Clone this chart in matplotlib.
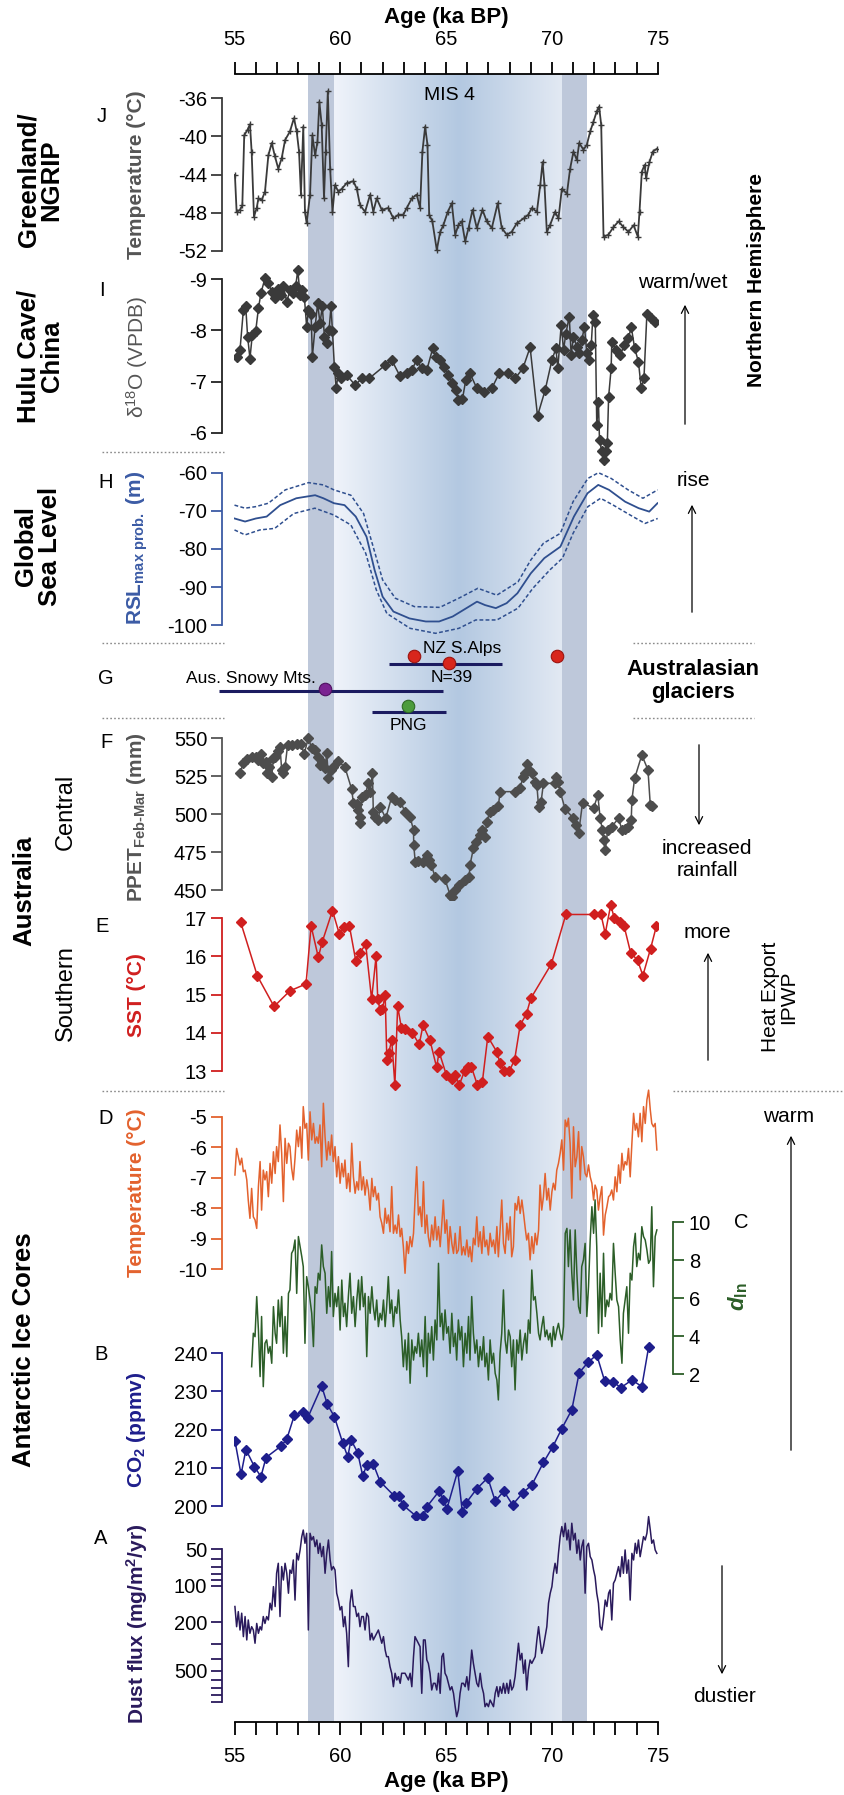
import matplotlib
matplotlib.use('Agg')
import matplotlib.pyplot as plt
import numpy as np
from matplotlib.colors import LinearSegmentedColormap
from matplotlib.patches import FancyArrowPatch
from matplotlib.lines import Line2D
from matplotlib.ticker import MultipleLocator, NullFormatter

plt.rcParams['font.family'] = ['Liberation Sans Narrow', 'Liberation Sans', 'DejaVu Sans']
plt.rcParams['axes.unicode_minus'] = False
plt.rcParams['mathtext.fontset'] = 'custom'
plt.rcParams['mathtext.rm'] = 'Liberation Sans'
plt.rcParams['mathtext.it'] = 'Liberation Sans:italic'
plt.rcParams['mathtext.bf'] = 'Liberation Sans:bold'

# ---------------- data (ages in ka BP) ----------------
mis4_bands = [(58.47, 59.69), (70.45, 71.64)]   # transition windows
mis4_core = (59.69, 70.45)

# J - NGRIP temperature
j_age = [55.02, 55.10, 55.26, 55.37, 55.46, 55.62, 55.73, 55.81, 55.92, 56.05,
         56.13, 56.28, 56.44, 56.60, 56.76, 56.91, 57.07, 57.23, 57.39, 57.62,
         57.81, 57.94, 58.05, 58.14, 58.25, 58.33, 58.41, 58.57, 58.68, 58.81,
         58.92, 59.01, 59.12, 59.23, 59.31, 59.41, 59.52, 59.63, 59.75, 59.91,
         60.07, 60.30, 60.62, 60.78, 60.93, 61.17, 61.41, 61.56, 61.72, 61.96,
         62.27, 62.51, 62.75, 62.98, 63.14, 63.38, 63.61, 63.77, 63.88, 64.01,
         64.12, 64.20, 64.35, 64.56, 64.72, 64.87, 65.08, 65.27, 65.43, 65.58,
         65.74, 65.90, 66.06, 66.25, 66.45, 66.72, 66.92, 67.16, 67.44, 67.63,
         67.87, 68.10, 68.34, 68.66, 68.89, 69.05, 69.29, 69.45, 69.56, 69.65,
         69.76, 69.91, 70.15, 70.31, 70.47, 70.71, 70.86, 71.02, 71.18, 71.29,
         71.49, 71.65, 71.81, 71.96, 72.12, 72.23, 72.33, 72.44, 72.67, 72.91,
         73.15, 73.38, 73.62, 73.86, 74.06, 74.14, 74.25, 74.38, 74.45, 74.61,
         74.77, 74.97]
j_temp = [-44.05, -47.9, -47.7, -47.2, -39.9, -39.3, -38.75, -41.6, -48.4, -47.5,
          -46.5, -46.7, -45.8, -42.0, -40.7, -42.1, -43.4, -42.3, -40.4, -39.5,
          -38.1, -39.5, -41.6, -46.1, -39.0, -47.9, -49.1, -46.1, -39.9, -42.0,
          -40.6, -36.4, -38.8, -46.5, -41.6, -35.3, -43.4, -47.9, -45.1, -45.8,
          -45.5, -44.9, -44.7, -45.5, -47.2, -47.9, -46.1, -47.9, -46.5, -47.7,
          -47.5, -48.6, -48.2, -48.2, -47.5, -46.5, -46.1, -47.5, -41.6, -39.0,
          -40.9, -48.2, -48.9, -51.9, -50.0, -49.3, -47.9, -47.0, -50.3, -49.3,
          -48.9, -51.0, -49.6, -47.7, -49.6, -47.7, -48.9, -49.6, -47.0, -49.6,
          -50.3, -50.0, -49.1, -48.6, -48.2, -47.5, -47.9, -45.1, -42.7, -45.1,
          -50.0, -49.3, -47.9, -48.6, -45.5, -46.0, -43.4, -41.6, -42.5, -40.7,
          -41.4, -40.9, -39.5, -38.5, -37.4, -36.9, -38.8, -50.5, -50.3, -49.5,
          -48.9, -49.5, -50.0, -49.3, -50.5, -47.9, -43.7, -43.0, -44.4, -42.7,
          -41.6, -41.3]

# I - Hulu Cave d18O
i_age = [55.10, 55.26, 55.42, 55.53, 55.62, 55.73, 55.84, 56.00, 56.13, 56.25,
         56.44, 56.60, 56.76, 56.91, 57.07, 57.20, 57.31, 57.47, 57.62, 57.78,
         57.89, 57.99, 58.10, 58.21, 58.30, 58.41, 58.49, 58.62, 58.68, 58.81,
         58.93, 59.04, 59.15, 59.25, 59.36, 59.47, 59.56, 59.63, 59.72, 59.80,
         59.91, 60.04, 60.30, 60.70, 61.01, 61.36, 62.12, 62.43, 62.83, 63.14,
         63.38, 63.61, 63.85, 64.09, 64.37, 64.51, 64.71, 64.92, 65.11, 65.30,
         65.46, 65.58, 65.77, 65.93, 66.13, 66.45, 66.81, 67.16, 67.51, 67.92,
         68.26, 68.63, 68.97, 69.32, 69.68, 70.00, 70.19, 70.28, 70.44, 70.55,
         70.66, 70.82, 70.91, 71.02, 71.18, 71.29, 71.41, 71.54, 71.65, 71.76,
         71.86, 71.94, 72.05, 72.12, 72.20, 72.25, 72.35, 72.45, 72.55, 72.62,
         72.68, 72.80, 72.83, 73.02, 73.23, 73.43, 73.62, 73.75, 73.91, 74.09,
         74.22, 74.35, 74.49, 74.69, 74.88]
i_d18o = [-7.49, -7.62, -8.40, -8.47, -7.88, -7.45, -7.91, -7.98, -8.43, -8.73,
          -9.02, -8.92, -8.76, -8.63, -8.82, -8.69, -8.86, -8.56, -8.79, -8.73,
          -8.86, -9.18, -8.69, -8.79, -8.66, -8.07, -8.40, -8.33, -7.49, -8.07,
          -8.53, -8.14, -8.47, -7.88, -7.75, -8.01, -8.47, -7.98, -7.29, -6.87,
          -7.16, -7.06, -7.13, -6.93, -7.06, -7.06, -7.32, -7.42, -7.10, -7.16,
          -7.23, -7.42, -7.26, -7.23, -7.65, -7.49, -7.42, -7.29, -7.13, -6.97,
          -6.83, -6.64, -6.65, -7.03, -7.16, -6.87, -6.80, -6.87, -7.16, -7.16,
          -7.06, -7.26, -7.67, -6.33, -6.83, -7.42, -7.65, -7.26, -8.11, -7.62,
          -7.94, -8.27, -7.52, -7.88, -7.68, -7.55, -7.81, -8.07, -7.55, -7.42,
          -7.72, -8.30, -8.17, -6.15, -6.60, -5.85, -5.65, -5.47, -5.65, -5.80,
          -6.70, -7.26, -7.78, -7.62, -7.52, -7.72, -7.85, -8.07, -7.65, -7.39,
          -6.87, -7.06, -8.33, -8.24, -8.17]

# H - global relative sea level (max probability and 95% band)
h_age = [55.0, 55.5, 56.01, 56.52, 57.16, 57.92, 58.81, 59.2, 59.7, 60.2,
         60.73, 61.24, 61.62, 62.0, 62.51, 63.27, 64.04, 64.67, 65.31, 66.08,
         66.46, 66.84, 67.35, 67.86, 68.37, 69.0, 69.64, 70.4, 71.04, 71.68,
         72.19, 72.7, 73.46, 74.1, 74.6, 74.99]
h_rsl = [-72.0, -72.8, -72.0, -71.5, -68.5, -66.7, -65.9, -66.7, -68.0, -68.5,
         -71.5, -76.8, -85.5, -92.5, -96.4, -98.2, -99.0, -99.0, -97.7, -95.1,
         -93.8, -94.7, -95.5, -94.2, -91.6, -86.4, -82.4, -79.4, -71.5, -65.4,
         -63.2, -64.5, -67.6, -69.3, -70.2, -68.0]
h_up_age = [55.0, 55.5, 56.0, 56.6, 57.4, 58.5, 59.2, 59.7, 60.5, 61.1,
            61.6, 62.0, 62.6, 63.5, 64.7, 65.6, 66.5, 67.4, 68.4, 69.0,
            69.6, 70.4, 71.0, 71.7, 72.2, 72.8, 73.6, 74.3, 75.0]
h_up = [-68.5, -69.3, -68.9, -68.0, -64.5, -62.6, -63.2, -64.5, -65.9, -70.7,
        -80.3, -88.1, -92.9, -95.1, -95.3, -92.9, -90.3, -92.1, -88.6, -82.9,
        -78.5, -75.9, -67.6, -61.5, -60.0, -61.5, -64.5, -66.7, -64.5]
h_lo_age = [55.0, 55.5, 56.2, 56.9, 57.8, 58.8, 59.7, 60.5, 61.2, 61.7,
            62.2, 63.3, 64.5, 65.6, 66.4, 67.4, 68.4, 69.1, 69.9, 70.5,
            71.0, 71.7, 72.3, 72.9, 73.7, 74.4, 75.0]
h_lo = [-75.0, -76.3, -75.0, -74.6, -70.7, -69.3, -71.1, -73.7, -81.1, -90.7,
        -96.9, -100.8, -102.1, -100.8, -98.6, -98.6, -95.5, -90.3, -85.5, -82.4,
        -75.9, -68.9, -66.7, -68.5, -71.1, -73.3, -72.0]

# G - Australasian glacier ages
nz_ages = [63.48, 65.16, 70.25]
nz_range = [62.3, 67.65]
snowy_age = 59.3
snowy_range = [54.28, 64.86]
png_age = 63.2
png_range = [61.49, 65.0]

# F - central Australia PPET Feb-Mar (mm)
f_age = [55.26, 55.42, 55.58, 55.81, 56.00, 56.13, 56.25, 56.36, 56.47, 56.52,
         56.65, 56.76, 56.84, 56.91, 57.04, 57.15, 57.23, 57.31, 57.39, 57.51,
         57.70, 57.94, 58.14, 58.29, 58.49, 58.65, 58.81, 58.93, 59.04, 59.15,
         59.28, 59.36, 59.44, 59.56, 59.67, 59.88, 60.22, 60.54, 60.62, 60.78,
         60.86, 60.93, 60.94, 61.01, 61.17, 61.33, 61.41, 61.52, 61.56, 61.64,
         61.80, 61.88, 62.15, 62.43, 62.59, 62.83, 63.06, 63.30, 63.46, 63.47,
         63.54, 63.69, 63.93, 64.09, 64.20, 64.29, 64.48, 64.95, 65.19, 65.27,
         65.43, 65.62, 65.90, 66.09, 66.13, 66.29, 66.40, 66.61, 66.72, 66.84,
         66.92, 67.08, 67.24, 67.47, 67.55, 68.26, 68.50, 68.63, 68.74, 68.81,
         68.92, 69.05, 69.18, 69.29, 69.37, 69.49, 69.60, 70.15, 70.19, 70.31,
         70.39, 70.63, 71.02, 71.13, 71.26, 71.45, 71.97, 72.17, 72.28, 72.39,
         72.44, 72.52, 72.64, 72.83, 73.15, 73.31, 73.46, 73.62, 73.75, 73.78,
         73.91, 74.25, 74.54, 74.65, 74.73]
f_ppet = [527.4, 533.6, 536.2, 537.5, 537.9, 535.7, 539.7, 533.6, 534.6, 527.0,
          531.4, 524.8, 536.8, 537.9, 541.9, 544.5, 529.2, 527.0, 531.4, 545.6,
          545.6, 546.3, 546.3, 539.7, 550.0, 543.4, 542.3, 537.9, 532.5, 534.6,
          530.3, 540.1, 523.7, 529.2, 531.4, 535.3, 530.9, 516.4, 507.2, 506.8,
          502.8, 498.5, 494.1, 511.6, 512.7, 520.4, 514.9, 527.0, 501.8, 498.5,
          496.3, 505.0, 497.4, 511.6, 509.4, 508.3, 501.8, 498.0, 489.7, 479.8,
          468.9, 469.6, 468.9, 473.2, 469.8, 466.7, 459.0, 457.2, 446.9, 445.8,
          450.2, 453.5, 456.8, 459.0, 466.7, 477.6, 482.0, 486.4, 489.7, 485.3,
          495.2, 501.8, 502.8, 505.5, 514.9, 514.9, 517.1, 524.8, 527.0, 533.1,
          529.2, 527.0, 521.5, 519.3, 505.0, 508.3, 520.4, 520.4, 524.8, 521.5,
          514.9, 503.3, 497.4, 493.0, 487.5, 507.7, 504.0, 512.7, 497.4, 489.7,
          483.1, 476.5, 489.7, 491.9, 497.4, 489.7, 490.1, 491.5, 496.3, 509.4,
          523.7, 539.0, 529.2, 506.1, 505.5]

# E - southern Australia SST (degC)
e_age = [55.29, 56.08, 56.87, 57.62, 58.38, 58.62, 58.96, 59.15, 59.63, 59.96,
         60.19, 60.43, 60.73, 60.93, 61.20, 61.48, 61.69, 61.77, 61.88, 61.99,
         62.12, 62.20, 62.28, 62.43, 62.58, 62.71, 62.89, 63.07, 63.40, 63.73,
         63.91, 64.24, 64.55, 64.67, 65.01, 65.26, 65.44, 65.62, 65.87, 66.02,
         66.20, 66.48, 66.71, 66.97, 67.40, 67.55, 67.73, 67.99, 68.24, 68.50,
         68.80, 69.00, 69.97, 70.66, 72.01, 72.32, 72.52, 72.78, 72.95, 73.21,
         73.41, 73.72, 74.05, 74.30, 74.66, 74.94]
e_sst = [16.90, 15.49, 14.69, 15.10, 15.28, 16.80, 15.98, 16.39, 17.20, 16.58,
         16.78, 16.80, 15.89, 16.10, 16.32, 14.88, 16.00, 14.88, 14.60, 14.62,
         14.99, 13.29, 13.46, 13.81, 12.63, 14.70, 14.12, 14.10, 14.00, 13.70,
         14.20, 13.80, 13.10, 13.50, 12.90, 12.80, 12.90, 12.63, 13.00, 13.10,
         13.10, 12.63, 12.70, 13.90, 13.50, 13.20, 13.00, 13.00, 13.30, 14.20,
         14.50, 14.90, 15.80, 17.10, 17.10, 17.10, 16.60, 17.35, 17.00, 16.90,
         16.80, 16.10, 15.90, 15.50, 16.20, 16.80]

# ice-core sampling ages shared by D, C and A
ice_age = [55.02, 55.10, 55.18, 55.26, 55.34, 55.42, 55.50, 55.58, 55.65, 55.73,
           55.81, 55.89, 55.97, 56.05, 56.13, 56.21, 56.28, 56.36, 56.44, 56.52,
           56.60, 56.68, 56.76, 56.84, 56.92, 56.99, 57.07, 57.15, 57.23, 57.31,
           57.39, 57.47, 57.55, 57.62, 57.70, 57.78, 57.86, 57.94, 58.02, 58.10,
           58.18, 58.25, 58.33, 58.41, 58.49, 58.57, 58.65, 58.73, 58.81, 58.89,
           58.96, 59.04, 59.12, 59.20, 59.28, 59.36, 59.44, 59.52, 59.59, 59.67,
           59.75, 59.83, 59.91, 59.99, 60.07, 60.15, 60.22, 60.30, 60.38, 60.46,
           60.54, 60.62, 60.70, 60.78, 60.86, 60.93, 61.01, 61.09, 61.17, 61.25,
           61.33, 61.41, 61.49, 61.56, 61.64, 61.72, 61.80, 61.88, 61.96, 62.04,
           62.12, 62.19, 62.27, 62.35, 62.43, 62.51, 62.59, 62.67, 62.75, 62.83,
           62.90, 62.98, 63.06, 63.14, 63.22, 63.30, 63.38, 63.46, 63.53, 63.61,
           63.69, 63.77, 63.85, 63.93, 64.01, 64.09, 64.16, 64.24, 64.32, 64.40,
           64.48, 64.56, 64.64, 64.72, 64.80, 64.87, 64.95, 65.03, 65.11, 65.19,
           65.27, 65.35, 65.43, 65.50, 65.58, 65.66, 65.74, 65.82, 65.90, 65.98,
           66.06, 66.13, 66.21, 66.29, 66.37, 66.45, 66.53, 66.61, 66.69, 66.77,
           66.84, 66.92, 67.00, 67.08, 67.16, 67.24, 67.32, 67.40, 67.47, 67.55,
           67.63, 67.71, 67.79, 67.87, 67.95, 68.03, 68.10, 68.18, 68.26, 68.34,
           68.42, 68.50, 68.58, 68.66, 68.74, 68.81, 68.89, 68.97, 69.05, 69.13,
           69.21, 69.29, 69.37, 69.44, 69.52, 69.60, 69.68, 69.76, 69.84, 69.92,
           70.00, 70.07, 70.15, 70.23, 70.31, 70.39, 70.47, 70.55, 70.63, 70.71,
           70.78, 70.86, 70.94, 71.02, 71.10, 71.18, 71.26, 71.34, 71.41, 71.49,
           71.57, 71.65, 71.73, 71.81, 71.89, 71.97, 72.04, 72.12, 72.20, 72.28,
           72.36, 72.44, 72.52, 72.60, 72.68, 72.75, 72.83, 72.91, 72.99, 73.07,
           73.15, 73.23, 73.31, 73.38, 73.46, 73.54, 73.62, 73.70, 73.78, 73.86,
           73.94, 74.01, 74.09, 74.17, 74.25, 74.33, 74.41, 74.49, 74.57, 74.65,
           74.72, 74.80, 74.88, 74.96]

# D - Antarctic temperature anomaly (degC)
d_temp = [-6.91, -6.04, -6.31, -6.58, -6.36, -6.80, -6.75, -7.07, -7.73, -8.33,
          -7.35, -8.28, -8.38, -8.66, -7.29, -6.47, -8.06, -6.75, -7.07, -6.80,
          -7.62, -6.53, -7.18, -6.15, -6.86, -5.98, -6.47, -5.27, -6.20, -7.78,
          -5.71, -6.53, -5.87, -5.98, -6.69, -7.07, -6.36, -5.44, -5.98, -5.33,
          -6.36, -4.67, -5.38, -5.22, -6.42, -4.84, -5.76, -5.22, -5.87, -5.66,
          -5.87, -5.27, -6.64, -4.56, -5.66, -6.42, -5.82, -6.26, -5.60, -6.47,
          -5.98, -6.97, -6.31, -7.18, -6.53, -6.97, -6.42, -7.35, -6.86, -7.46,
          -5.87, -6.97, -7.51, -7.13, -7.40, -6.47, -7.40, -6.97, -7.57, -7.07,
          -7.40, -8.06, -7.02, -7.62, -7.29, -7.73, -7.51, -8.28, -8.49, -8.82,
          -8.00, -8.49, -8.22, -8.77, -7.29, -8.82, -8.55, -8.82, -8.22, -8.93,
          -8.66, -9.26, -10.13, -9.09, -9.48, -8.93, -9.26, -8.82, -7.73, -6.64,
          -8.22, -7.95, -8.60, -7.13, -8.82, -8.22, -8.93, -9.26, -8.55, -9.04,
          -8.28, -9.04, -8.60, -9.26, -8.49, -7.73, -8.82, -8.38, -9.48, -8.60,
          -9.15, -9.48, -8.82, -9.48, -9.37, -8.60, -9.53, -9.26, -9.53, -9.04,
          -9.59, -9.26, -9.75, -8.98, -9.20, -8.28, -9.26, -8.77, -9.48, -8.60,
          -9.26, -9.04, -9.53, -8.82, -9.26, -9.04, -9.48, -8.60, -9.59, -8.71,
          -7.73, -9.15, -9.48, -8.49, -9.04, -8.28, -9.59, -9.26, -7.84, -8.06,
          -7.62, -8.17, -7.73, -8.17, -8.66, -9.04, -8.82, -9.69, -8.93, -9.48,
          -8.82, -9.20, -8.71, -7.24, -8.06, -7.62, -6.86, -7.73, -7.35, -8.06,
          -7.46, -7.18, -7.40, -6.75, -6.53, -6.20, -5.76, -6.75, -5.11, -5.33,
          -5.05, -5.87, -7.67, -5.33, -6.64, -6.31, -5.49, -7.07, -5.98, -6.31,
          -6.86, -6.97, -6.58, -6.97, -7.18, -7.73, -7.24, -7.40, -8.06, -7.62,
          -7.29, -8.88, -8.22, -7.95, -7.62, -7.57, -7.40, -7.73, -6.97, -7.46,
          -6.58, -7.18, -6.20, -6.75, -6.47, -6.58, -6.04, -6.97, -5.87, -4.89,
          -5.44, -5.22, -5.66, -4.89, -5.82, -4.67, -5.22, -4.45, -4.13, -4.78,
          -5.22, -5.33, -5.22, -6.09]

# C - deuterium excess d_ln (starts at the 11th sampling age)
c_dln = [2.40, 4.16, 3.98, 6.09, 4.33, 1.88, 5.04, 1.35, 3.63, 3.81,
         3.11, 3.46, 2.58, 5.56, 4.16, 3.63, 5.91, 4.51, 6.09, 3.11,
         5.04, 2.93, 6.26, 6.44, 8.37, 8.54, 9.07, 6.26, 9.25, 8.72,
         8.19, 7.67, 3.63, 7.14, 6.61, 5.91, 5.21, 3.46, 6.61, 6.26,
         7.32, 6.96, 8.81, 7.67, 7.32, 5.21, 6.61, 5.56, 8.46, 5.04,
         6.26, 5.56, 6.61, 4.33, 6.96, 5.04, 5.74, 4.51, 6.09, 7.32,
         5.21, 6.09, 4.51, 5.91, 6.96, 5.39, 7.14, 5.56, 6.26, 2.93,
         6.09, 5.21, 6.61, 5.56, 4.86, 5.91, 4.51, 5.21, 4.86, 5.91,
         4.51, 5.56, 7.14, 5.21, 5.91, 4.51, 5.56, 5.21, 6.44, 4.86,
         3.98, 2.40, 3.81, 2.23, 4.16, 1.53, 3.81, 2.75, 3.46, 3.11,
         4.16, 2.93, 3.81, 2.40, 5.04, 1.88, 4.16, 3.11, 4.51, 2.75,
         4.86, 3.81, 7.84, 4.51, 5.21, 3.81, 5.39, 4.16, 4.51, 3.11,
         5.21, 3.46, 4.16, 2.75, 4.86, 3.81, 4.51, 2.40, 4.16, 3.11,
         5.04, 2.75, 6.09, 4.16, 3.11, 3.81, 2.40, 3.46, 2.75, 3.98,
         2.40, 3.11, 1.70, 3.81, 2.58, 3.11, 2.05, 1.70, 0.65, 3.11,
         4.16, 6.44, 3.81, 3.11, 4.33, 3.98, 2.40, 3.81, 1.18, 3.81,
         3.11, 4.33, 2.75, 3.63, 4.16, 3.11, 4.86, 4.16, 7.49, 5.91,
         6.09, 5.21, 4.16, 3.81, 4.51, 5.04, 3.98, 4.33, 3.81, 4.16,
         3.46, 4.51, 3.81, 4.33, 4.68, 4.16, 3.81, 4.51, 9.42, 9.68,
         7.67, 9.60, 7.32, 5.91, 9.60, 7.32, 5.56, 5.21, 7.67, 8.02,
         8.89, 5.04, 6.61, 9.07, 10.82, 9.42, 11.18, 8.72, 4.16, 7.32,
         4.51, 8.37, 5.04, 5.91, 5.56, 6.26, 5.91, 8.89, 7.32, 5.91,
         5.56, 3.81, 2.58, 5.21, 5.91, 6.61, 4.16, 7.32, 6.96, 8.72,
         9.42, 7.67, 8.37, 8.02, 9.77, 9.25, 9.07, 8.54, 7.84, 8.02,
         10.82, 6.61, 9.25, 9.60]

# B - CO2 (ppmv)
b_age = [55.02, 55.31, 55.54, 55.94, 56.25, 56.49, 57.20, 57.47, 57.83, 58.22,
         58.46, 59.12, 59.39, 59.72, 60.11, 60.35, 60.51, 60.82, 61.06, 61.25,
         61.56, 61.88, 62.54, 62.78, 62.95, 63.57, 63.93, 64.09, 64.67, 64.87,
         65.03, 65.55, 65.77, 65.93, 66.45, 66.97, 67.32, 67.73, 68.14, 68.63,
         69.05, 69.60, 70.04, 70.47, 70.94, 71.29, 71.70, 72.12, 72.49, 72.87,
         73.26, 73.78, 74.25, 74.57]
b_co2 = [217.1, 208.3, 214.8, 210.3, 207.7, 212.7, 215.7, 217.5, 223.8, 224.5,
         223.1, 231.4, 226.6, 223.4, 216.6, 212.9, 217.3, 214.0, 207.9, 210.7,
         211.0, 206.4, 202.7, 202.7, 200.3, 197.4, 197.4, 199.8, 203.9, 201.7,
         199.1, 209.2, 198.3, 200.7, 204.5, 207.4, 201.3, 203.9, 200.3, 203.5,
         205.5, 211.4, 215.5, 220.3, 225.2, 234.9, 237.6, 239.6, 232.8, 232.6,
         231.0, 233.0, 231.3, 241.6]

# A - dust flux (mg/m2/yr)
a_dust = [148, 217, 163, 231, 168, 262, 179, 279, 191, 246,
          217, 231, 297, 204, 246, 217, 231, 179, 204, 179,
          191, 139, 158, 101.5, 148, 78.8, 65.2, 179, 69.4, 89.5,
          65.2, 78.8, 115, 74, 78.8, 61.2, 131, 54, 61.2, 50.6,
          39.3, 34.7, 44.6, 36.9, 231, 36.9, 41.9, 39.3, 47.5, 41.9,
          54, 44.6, 57.5, 47.5, 78.8, 54, 41.9, 61.2, 74, 69.4,
          74, 115, 131, 158, 148, 217, 179, 246, 463, 139,
          108, 148, 148, 179, 168, 217, 179, 179, 231, 168,
          179, 279, 246, 279, 262, 246, 231, 262, 297, 262,
          338, 383, 383, 463, 525, 677, 525, 596, 560, 635,
          525, 525, 525, 560, 596, 525, 677, 383, 262, 279,
          297, 317, 768, 279, 279, 408, 435, 525, 721, 635,
          635, 721, 525, 768, 383, 360, 525, 560, 635, 721,
          677, 768, 989, 1196, 1054, 768, 635, 635, 677, 560,
          721, 525, 338, 435, 525, 635, 677, 525, 677, 768,
          989, 929, 989, 872, 929, 989, 768, 677, 818, 677,
          768, 635, 768, 635, 768, 596, 721, 677, 560, 408,
          297, 408, 360, 525, 408, 721, 493, 408, 435, 408,
          383, 279, 217, 279, 360, 317, 262, 217, 139, 115,
          101.5, 78.8, 65.2, 78.8, 54, 39.3, 32.5, 39.3, 30.5, 41.9,
          34.7, 50.6, 30.5, 41.9, 36.9, 54, 41.9, 61.2, 47.5, 41.9,
          115, 47.5, 44.6, 57.5, 61.2, 74, 84, 115, 139, 217,
          231, 179, 131, 148, 115, 108, 191, 95.3, 89.5, 78.8,
          69.4, 84, 57.5, 78.8, 50.6, 78.8, 61.2, 131, 54, 61.2,
          44.6, 54, 41.9, 57.5, 47.5, 39.3, 41.9, 36.9, 26.9, 34.7,
          44.6, 41.9, 50.6, 54]

# ---------------- layout helpers (pixels of the 845x1795 canvas) ----------------
W, H = 845, 1795
X0, X1 = 234.5, 657.7          # x pixel of 55 and 75 ka


def fx(x):
    return x / W


def fy(y):
    return 1 - y / H


fig = plt.figure(figsize=(W / 100, H / 100), dpi=100)

TICK_FS = 14.5
SANS = ['Liberation Sans', 'DejaVu Sans']

# background axes: shading + top / bottom age axes
bg = fig.add_axes([fx(X0), fy(1722), fx(X1) - fx(X0), (1722 - 74) / H])
for a, b in mis4_bands:
    bg.axvspan(a, b, color='#bec8da', lw=0, zorder=0)
cmap = LinearSegmentedColormap.from_list('mis4', [(0, '#eff3fa'), (0.55, '#b3c8e1'), (1, '#e2e9f3')])
bg.imshow(np.linspace(0, 1, 256)[None, :], extent=[mis4_core[0], mis4_core[1], 0, 1],
          aspect='auto', cmap=cmap, zorder=0)
bg.set_xlim(55, 75)
bg.set_ylim(0, 1)
bg.spines['left'].set_visible(False)
bg.spines['right'].set_visible(False)
for k in ['top', 'bottom']:
    bg.spines[k].set_linewidth(1.3)
bg.set_yticks([])
bg.xaxis.set_major_locator(MultipleLocator(5))
bg.xaxis.set_minor_locator(MultipleLocator(1))
bg.tick_params(axis='x', which='both', top=True, bottom=True, labeltop=True, labelbottom=True,
               direction='out', length=9, width=1.3, labelsize=TICK_FS, pad=9)
fig.text(fx((X0 + X1) / 2), fy(18), 'Age (ka BP)', ha='center', va='center', fontsize=16, fontweight='bold')
fig.text(fx((X0 + X1) / 2), fy(1781), 'Age (ka BP)', ha='center', va='center', fontsize=16, fontweight='bold')
fig.text(fx(450), fy(95), 'MIS 4', ha='center', va='center', fontsize=14)


def panel(top, bot, pa, va, pb, vb, color, side='left', log=False):
    ax = fig.add_axes([fx(X0), fy(bot), fx(X1) - fx(X0), (bot - top) / H])
    ax.patch.set_visible(False)
    ax.set_xlim(55, 75)
    if log:
        la, lb = np.log10(va), np.log10(vb)
        s = (lb - la) / (pb - pa)
        ax.set_yscale('log')
        ax.set_ylim(10 ** (la + (bot - pa) * s), 10 ** (la + (top - pa) * s))
    else:
        s = (vb - va) / (pb - pa)
        ax.set_ylim(va + (bot - pa) * s, va + (top - pa) * s)
    for k in ['top', 'bottom', 'left', 'right']:
        ax.spines[k].set_visible(False)
    ax.set_xticks([])
    sp = ax.spines[side]
    sp.set_visible(True)
    sp.set_color(color)
    sp.set_linewidth(1.3)
    off = 12 if side == 'left' else 15.8
    sp.set_position(('outward', off * 0.72))
    ax.yaxis.set_ticks_position(side)
    ax.tick_params(axis='y', which='both', colors=color, labelcolor='black',
                   length=8, width=1.3, labelsize=TICK_FS, pad=3)
    return ax


# J
ax = panel(85, 262, 98, -36, 251, -52, '#3a3a3a')
ax.set_yticks([-36, -40, -44, -48, -52])
ax.spines['left'].set_bounds(-52, -36)
ax.plot(j_age, j_temp, color='#3a3a3a', lw=1.3, marker='+', ms=4.5, mew=1.0)

# I
ax = panel(262, 470, 279.3, -9, 432.7, -6, '#222222')
ax.set_yticks([-9, -8, -7, -6])
ax.spines['left'].set_bounds(-9, -6)
ax.plot(i_age, i_d18o, color='#3a3a3a', lw=1.1, marker='D', ms=5)

# H
ax = panel(460, 640, 472.7, -60, 625.3, -100, '#3b5ba5')
ax.set_yticks([-60, -70, -80, -90, -100])
ax.spines['left'].set_bounds(-100, -60)
ax.plot(h_age, h_rsl, color='#2f4f8f', lw=1.3)
ax.plot(h_up_age, h_up, color='#2f4f8f', lw=1.1, ls=(0, (2.5, 1.5)))
ax.plot(h_lo_age, h_lo, color='#2f4f8f', lw=1.1, ls=(0, (2.5, 1.5)))

# G
gax = fig.add_axes([fx(X0), fy(730), fx(X1) - fx(X0), (730 - 640) / H])
gax.set_xlim(55, 75)
gax.set_ylim(730, 640)
gax.axis('off')
gax.plot(nz_range, [664, 664], color='#1b1b60', lw=2.2, solid_capstyle='butt')
gax.plot(snowy_range, [690.7, 690.7], color='#1b1b60', lw=2.2, solid_capstyle='butt', clip_on=False)
gax.plot(png_range, [711.7, 711.7], color='#1b1b60', lw=2.2, solid_capstyle='butt')
for age, row in zip(nz_ages, [656, 663, 656]):
    gax.plot([age], [row], 'o', ms=9, color='#d8261c', mec='#9b1410', mew=0.8)
gax.plot([snowy_age], [688.7], 'o', ms=9, color='#7b2391', mec='#4f1060', mew=0.8)
gax.plot([png_age], [706], 'o', ms=9, color='#4c9c3c', mec='#2f6a25', mew=0.8)
fig.text(fx(462), fy(648), 'NZ S.Alps', ha='center', va='center', fontsize=12.5)
fig.text(fx(452), fy(677), 'N=39', ha='center', va='center', fontsize=12.5)
fig.text(fx(316), fy(679), 'Aus. Snowy Mts.', ha='right', va='center', fontsize=12.5)
fig.text(fx(408), fy(725), 'PNG', ha='center', va='center', fontsize=12.5)

# F
ax = panel(728, 900, 738.3, 550, 890.3, 450, '#555555')
ax.set_yticks([550, 525, 500, 475, 450])
ax.spines['left'].set_bounds(450, 550)
ax.plot(f_age, f_ppet, color='#4d4d4d', lw=1.1, marker='D', ms=5)

# E
ax = panel(900, 1090, 918.3, 17, 1071, 13, '#d01f1f')
ax.set_yticks([17, 16, 15, 14, 13])
ax.spines['left'].set_bounds(13, 17)
ax.plot(e_age, e_sst, color='#d01f1f', lw=1.1, marker='D', ms=5)

# D
ax = panel(1085, 1282, 1116.7, -5, 1269.3, -10, '#e3622e')
ax.set_yticks([-5, -6, -7, -8, -9, -10])
ax.spines['left'].set_bounds(-10, -5)
ax.plot(ice_age, d_temp, color='#e3622e', lw=1.1)

# C (right axis)
ax = panel(1190, 1410, 1222.3, 10, 1374.3, 2, '#2c5e28', side='right')
ax.set_yticks([10, 8, 6, 4, 2])
ax.spines['right'].set_bounds(2, 10)
ax.plot(ice_age[10:], c_dln, color='#2c5e28', lw=1.1)

# B
ax = panel(1340, 1520, 1353.3, 240, 1506, 200, '#1e1e8c')
ax.set_yticks([240, 230, 220, 210, 200])
ax.spines['left'].set_bounds(200, 240)
ax.plot(b_age, b_co2, color='#1e1e8c', lw=1.1, marker='D', ms=5)

# A (log, inverted)
ax = panel(1505, 1722, 1549.3, 50, 1670.7, 500, '#2a1a5c', log=True)
ax.set_yticks([50, 100, 200, 500], labels=['50', '100', '200', '500'])
ax.set_yticks([60, 70, 80, 90, 300, 400, 600, 700, 800, 900], minor=True)
ax.yaxis.set_minor_formatter(NullFormatter())
ax.spines['left'].set_bounds(50, 900)
ax.plot(ice_age, a_dust, color='#2a1a5c', lw=1.1)

# ---------------- labels ----------------
letters = [('J', 102, 117), ('I', 102, 290), ('H', 106, 482), ('G', 106, 678), ('F', 106, 743),
           ('E', 102, 927), ('D', 106, 1119), ('C', 741, 1222), ('B', 101, 1354), ('A', 101, 1538)]
for t, x, y in letters:
    fig.text(fx(x), fy(y), t, ha='center', va='center', fontsize=14.5)

ylabels = [
    ('Temperature (°C)', 137, 175, '#555555', 'bold'),
    ('δ$^{18}$O (VPDB)', 137, 357, '#555555', 'normal'),
    (r'RSL$_{\mathbf{max\ prob.}}$ (m)', 137, 548, '#3b5ba5', 'bold'),
    (r'PPET$_{\mathbf{Feb‐Mar}}$ (mm)', 137, 817, '#555555', 'bold'),
    ('SST (°C)', 137, 995, '#d01f1f', 'bold'),
    ('Temperature (°C)', 137, 1193, '#e3622e', 'bold'),
    (r'CO$_\mathbf{2}$ (ppmv)', 137, 1430, '#1e1e8c', 'bold'),
    (r'Dust flux (mg/m$^\mathbf{2}$/yr)', 137, 1624, '#2a1a5c', 'bold'),
]
for t, x, y, c, w in ylabels:
    fig.text(fx(x), fy(y), t, rotation=90, ha='center', va='center', fontsize=15,
             color=c, fontweight=w, family=SANS)
fig.text(fx(738), fy(1297), r'd$_{\mathbf{ln}}$', rotation=90, ha='center', va='center', fontsize=16,
         color='#2c5e28', fontweight='bold', fontstyle='italic', family=SANS)

groups = [('Greenland/\nNGRIP', 40, 180), ('Hulu Cave/\nChina', 40, 356), ('Global\nSea Level', 38, 546),
          ('Australia', 24, 891), ('Antarctic Ice Cores', 24, 1350)]
for t, x, y in groups:
    fig.text(fx(x), fy(y), t, rotation=90, ha='center', va='center', fontsize=18.5, fontweight='bold',
             multialignment='center', linespacing=0.95, family=SANS)
fig.text(fx(66), fy(812), 'Central', rotation=90, ha='center', va='center', fontsize=17, family=SANS)
fig.text(fx(66), fy(993), 'Southern', rotation=90, ha='center', va='center', fontsize=17, family=SANS)

fig.text(fx(757), fy(280), 'Northern Hemisphere', rotation=90, ha='center', va='center', fontsize=15,
         fontweight='bold', family=SANS)
fig.text(fx(693), fy(681), 'Australasian\nglaciers', ha='center', va='center', fontsize=16,
         fontweight='bold', linespacing=1.1)
fig.text(fx(780), fy(997), 'Heat Export\nIPWP', rotation=90, ha='center', va='center', fontsize=15,
         multialignment='center', linespacing=0.95, family=SANS)
notes = [('warm/wet', 683, 283), ('rise', 693, 480), ('increased\nrainfall', 707, 859),
         ('more', 707, 933), ('warm', 789, 1116), ('dustier', 725, 1697)]
for t, x, y in notes:
    fig.text(fx(x), fy(y), t, ha='center', va='center', fontsize=15, linespacing=1.2)

arrows = [(685, 427, 302), (692, 615, 502), (699, 742, 828), (708, 1063, 950),
          (791, 1453, 1133), (722, 1563, 1677)]
for x, y0, y1 in arrows:
    fig.add_artist(FancyArrowPatch((fx(x), fy(y0)), (fx(x), fy(y1)), transform=fig.transFigure,
                                   arrowstyle='->', mutation_scale=13, lw=0.9, color='black'))

seps = [(102, 224, 452), (102, 224, 643), (102, 224, 718), (102, 224, 1091),
        (633, 754, 643), (633, 754, 718), (673, 845, 1091)]
for a, b, y in seps:
    fig.add_artist(Line2D([fx(a), fx(b)], [fy(y), fy(y)], transform=fig.transFigure,
                          color='#8a8a8a', lw=1.0, ls=(0, (1.2, 1.6))))

fig.savefig('out.png', dpi=100)
